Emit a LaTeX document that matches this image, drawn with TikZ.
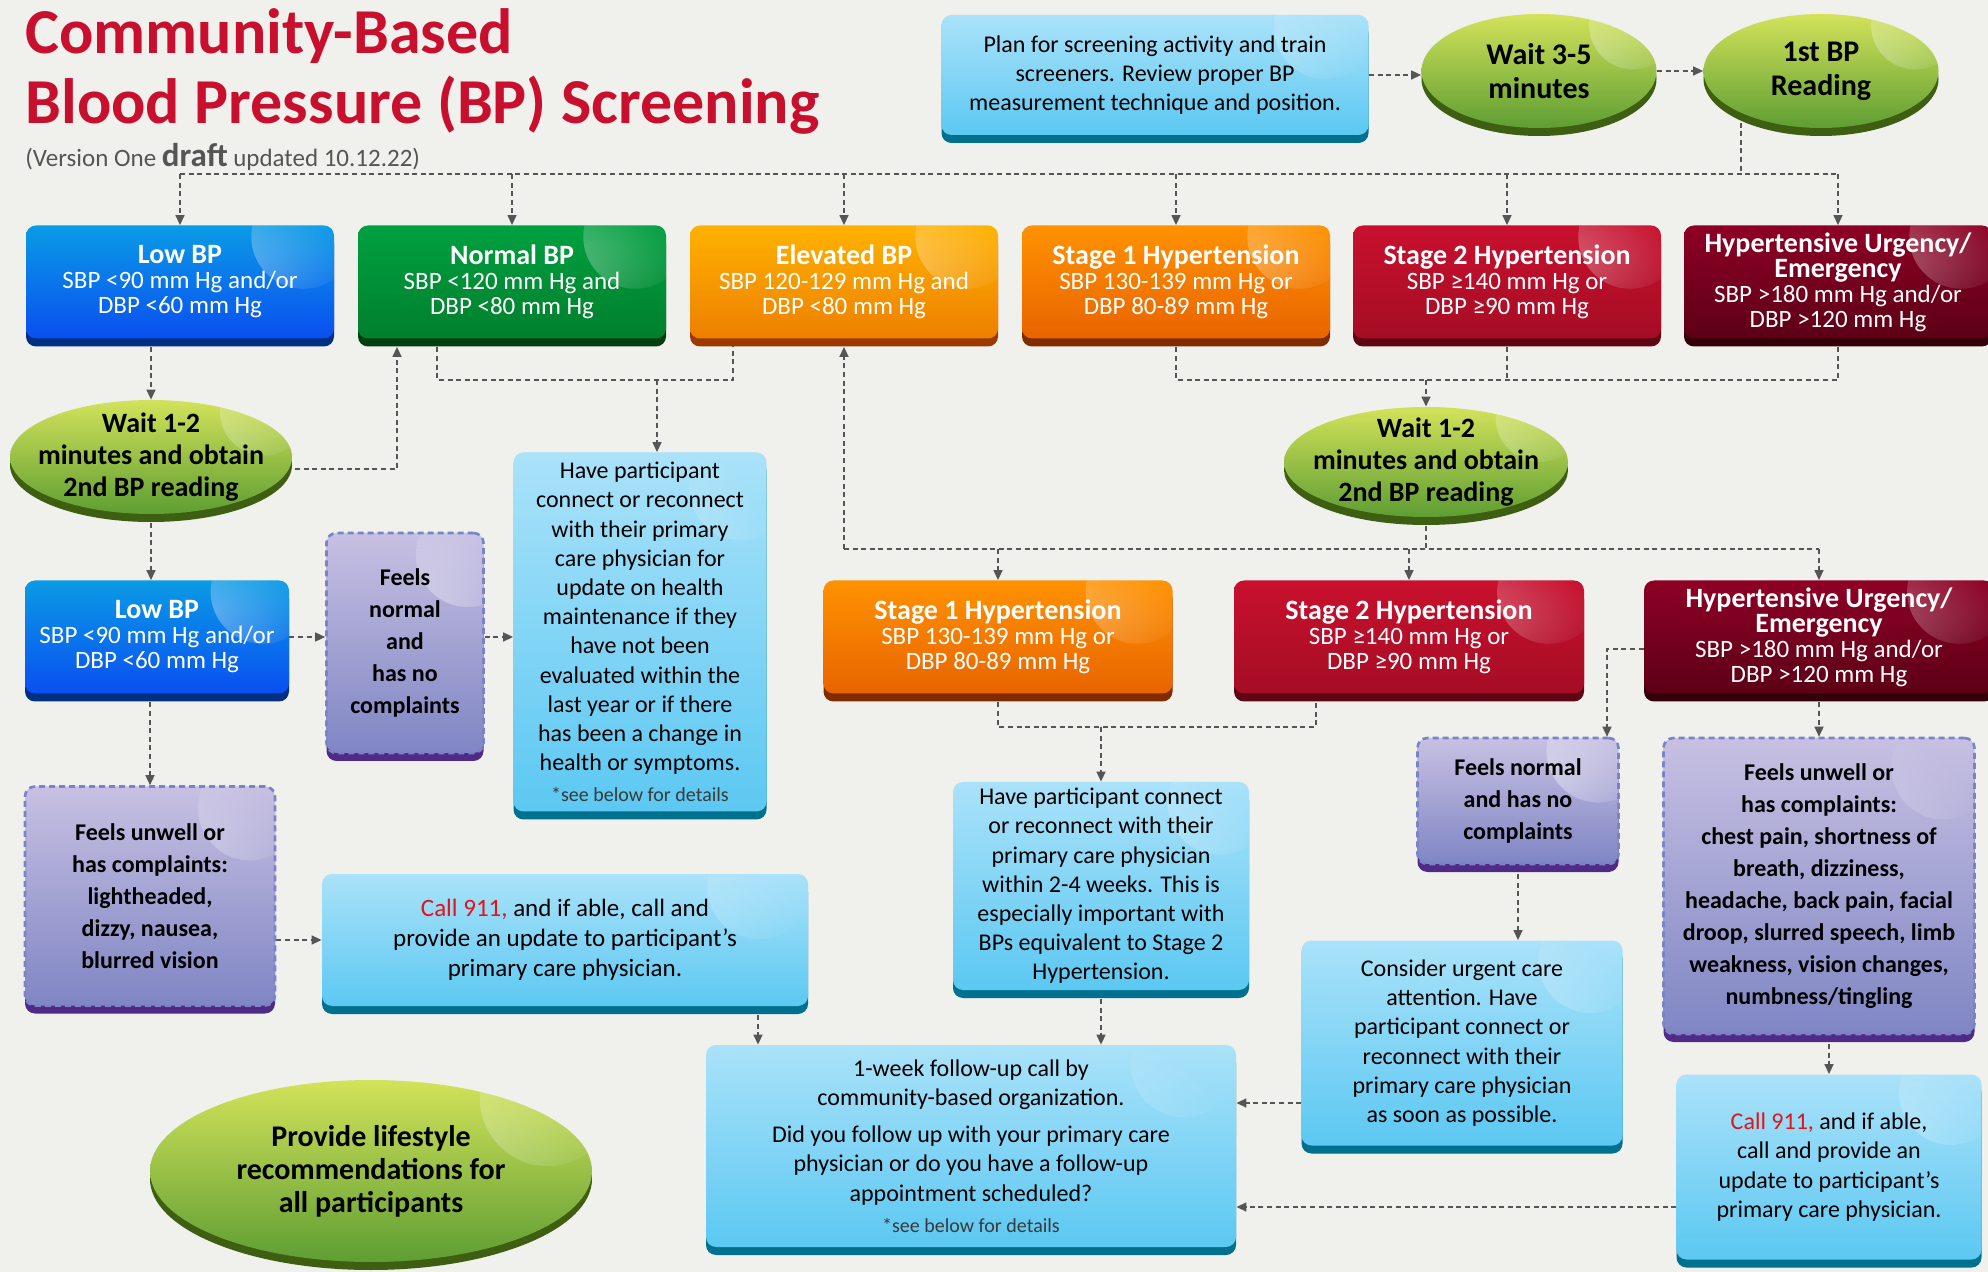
\documentclass[tikz,border=0pt]{standalone}
\usepackage{fontspec}
\setmainfont{Carlito}
\usetikzlibrary{arrows.meta,shapes.geometric,backgrounds,fadings,calc}

\definecolor{bg}{HTML}{F0F0EC}
\definecolor{lnk}{HTML}{555555}
\definecolor{ahared}{HTML}{C8102E}
\definecolor{callred}{HTML}{E3131B}
\definecolor{subgray}{HTML}{555555}
\definecolor{notegray}{HTML}{3A3A3A}
\definecolor{infoA}{HTML}{AAE2F9}
\definecolor{infoB}{HTML}{5CC8F2}
\definecolor{infoE}{HTML}{00708F}
\definecolor{lowA}{HTML}{0A9BE6}
\definecolor{lowB}{HTML}{0A4FF0}
\definecolor{lowE}{HTML}{00307F}
\definecolor{normalA}{HTML}{00A040}
\definecolor{normalB}{HTML}{007F2D}
\definecolor{normalE}{HTML}{00400F}
\definecolor{elevA}{HTML}{FFB200}
\definecolor{elevB}{HTML}{EE7F00}
\definecolor{elevE}{HTML}{9A3A00}
\definecolor{stoneA}{HTML}{FF9200}
\definecolor{stoneB}{HTML}{E86400}
\definecolor{stoneE}{HTML}{7F2C00}
\definecolor{sttwoA}{HTML}{C8102E}
\definecolor{sttwoB}{HTML}{A50D24}
\definecolor{sttwoE}{HTML}{5E0612}
\definecolor{urgA}{HTML}{8E0025}
\definecolor{urgB}{HTML}{5C0015}
\definecolor{urgE}{HTML}{33000A}
\definecolor{pplA}{HTML}{C7C0E2}
\definecolor{pplB}{HTML}{7F86C4}
\definecolor{pplE}{HTML}{4F2A86}
\definecolor{pplD}{HTML}{7A82C8}
\definecolor{grnA}{HTML}{D3E25A}
\definecolor{grnB}{HTML}{5E9E33}
\definecolor{grnE}{HTML}{3E5E12}

\tikzfading[name=glow, inner color=transparent!55, outer color=transparent!100]

\newcommand{\hd}[1]{{\bfseries\fontsize{14}{14}\selectfont #1}}
\newcommand{\callnine}{\textcolor{callred}{Call 911,}}
\newcommand{\seenote}{{\fontsize{10}{12}\selectfont\color{notegray}*see below for details}}

\begin{document}
\begin{tikzpicture}[x=0.5pt, y=-0.5pt,
  link/.style={draw=lnk, line width=0.7pt, dash pattern=on 2.5pt off 1.8pt},
  arr/.style={link, -{Triangle[length=5pt,width=4.5pt]}},
  sz/.style 2 args={minimum width=#1*0.5pt, minimum height=#2*0.5pt},
  gloss/.style={path picture={\fill[white, path fading=glow]
    ($(path picture bounding box.center)!0.8!(path picture bounding box.north east)$) circle (#1);}},
  tile/.style n args={3}{rectangle, rounded corners=5pt, inner sep=0pt, align=center,
    top color=#1, bottom color=#2, preaction={fill=#3, transform canvas={yshift=-4pt}}, gloss=26pt},
  info/.style={tile={infoA}{infoB}{infoE}, font=\fontsize{12}{14.6}\selectfont},
  feel/.style={tile={pplA}{pplB}{pplE}, draw=pplD, line width=1.3pt, dash pattern=on 3pt off 2pt,
    font=\bfseries\fontsize{12}{16}\selectfont},
  stage/.style={tile={#1A}{#1B}{#1E}, text=white, font=\fontsize{12.5}{12.5}\selectfont},
  oval/.style={ellipse, inner xsep=-20pt, inner ysep=-8pt, align=center, top color=grnA, bottom color=grnB,
    preaction={fill=grnE, transform canvas={yshift=-4pt}}, gloss=22pt, font=\bfseries\fontsize{14}{16}\selectfont}]
  \useasboundingbox (0,0) rectangle (1988,1272);

  % title
  \node[anchor=north west, align=left, inner sep=0pt, text=ahared,
    font=\bfseries\fontsize{32}{35}\selectfont] (title) at (25,8)
    {Community-Based\\Blood Pressure (BP) Screening};
  \node[anchor=north west, inner sep=0pt, text=subgray, font=\fontsize{12.5}{14}\selectfont] (sub) at (25,143)
    {(Version One {\bfseries\fontsize{16.5}{16}\selectfont draft} updated 10.12.22)};

  % start
  \node[info, sz={427}{120}] (plan) at (1155,75)
    {Plan for screening activity and train\\screeners. Review proper BP\\measurement technique and position.};
  \node[oval, sz={235}{114}, font=\bfseries\fontsize{15}{17}\selectfont] (wait) at (1539,71) {Wait 3-5\\minutes};
  \node[oval, sz={235}{114}, font=\bfseries\fontsize{15}{17}\selectfont] (first) at (1821,71) {1st BP\\Reading};

  % first reading
  \node[stage=low, sz={308}{113}] (low) at (180,282) {\hd{Low BP}\\SBP <90 mm Hg and/or\\DBP <60 mm Hg};
  \node[stage=normal, sz={308}{113}] (normal) at (512,282) {\hd{Normal BP}\\SBP <120 mm Hg and\\DBP <80 mm Hg};
  \node[stage=elev, sz={308}{113}] (elev) at (844,282) {\hd{Elevated BP}\\SBP 120-129 mm Hg and\\DBP <80 mm Hg};
  \node[stage=stone, sz={308}{113}] (st1) at (1176,282) {\hd{Stage 1 Hypertension}\\SBP 130-139 mm Hg or\\DBP 80-89 mm Hg};
  \node[stage=sttwo, sz={308}{113}] (st2) at (1507,282) {\hd{Stage 2 Hypertension}\\SBP ≥140 mm Hg or\\DBP ≥90 mm Hg};
  \node[stage=urg, sz={308}{113}] (urg) at (1838,282) {\hd{Hypertensive Urgency/}\\\hd{Emergency}\\SBP >180 mm Hg and/or\\DBP >120 mm Hg};

  % second reading
  \node[oval, sz={282}{114}] (wl) at (151,457) {Wait 1-2\\minutes and obtain\\2nd BP reading};
  \node[oval, sz={284}{110}] (wr) at (1426,462) {Wait 1-2\\minutes and obtain\\2nd BP reading};
  \node[info, sz={253}{359}] (havL) at (640,632)
    {Have participant\\connect or reconnect\\with their primary\\care physician for\\update on health\\maintenance if they\\have not been\\evaluated within the\\last year or if there\\has been a change in\\health or symptoms.\\[1pt]\seenote};
  \node[stage=low, sz={264}{113}] (lowb) at (157,637) {\hd{Low BP}\\SBP <90 mm Hg and/or\\DBP <60 mm Hg};
  \node[feel, sz={157}{220}] (fnl) at (405,643) {Feels\\normal\\and\\has no\\complaints};
  \node[stage=stone, sz={349}{113}] (st1b) at (998,637) {\hd{Stage 1 Hypertension}\\SBP 130-139 mm Hg or\\DBP 80-89 mm Hg};
  \node[stage=sttwo, sz={350}{113}] (st2b) at (1409,637) {\hd{Stage 2 Hypertension}\\SBP ≥140 mm Hg or\\DBP ≥90 mm Hg};
  \node[stage=urg, sz={350}{113}] (urgb) at (1819,637) {\hd{Hypertensive Urgency/}\\\hd{Emergency}\\SBP >180 mm Hg and/or\\DBP >120 mm Hg};

  % outcomes
  \node[feel, sz={250}{219}] (ful) at (150,896) {Feels unwell or\\has complaints:\\lightheaded,\\dizzy, nausea,\\blurred vision};
  \node[info, sz={486}{132}, font=\fontsize{12.5}{15}\selectfont] (c911l) at (565,940)
    {\callnine{} and if able, call and\\provide an update to participant’s\\primary care physician.};
  \node[info, sz={296}{208}] (mid) at (1101,886)
    {Have participant connect\\or reconnect with their\\primary care physician\\within 2-4 weeks. This is\\especially important with\\BPs equivalent to Stage 2\\Hypertension.};
  \node[info, sz={530}{202}] (fup) at (971,1146)
    {1-week follow-up call by\\community-based organization.\\[4pt]Did you follow up with your primary care\\physician or do you have a follow-up\\appointment scheduled?\\[1pt]\seenote};
  \node[feel, sz={201}{126}] (fnr) at (1518,801) {Feels normal\\and has no\\complaints};
  \node[info, sz={321}{205}] (cons) at (1462,1043)
    {Consider urgent care\\attention. Have\\participant connect or\\reconnect with their\\primary care physician\\as soon as possible.};
  \node[feel, sz={311}{296}] (fur) at (1819,886)
    {Feels unwell or\\has complaints:\\chest pain, shortness of\\breath, dizziness,\\headache, back pain, facial\\droop, slurred speech, limb\\weakness, vision changes,\\numbness/tingling};
  \node[info, sz={305}{185}] (c911r) at (1829,1167)
    {\callnine{} and if able,\\call and provide an\\update to participant’s\\primary care physician.};
  \node[oval, sz={442}{182}, gloss=34pt, font=\bfseries\fontsize{15}{16.5}\selectfont] (life) at (371,1171)
    {Provide lifestyle\\recommendations for\\all participants};

  \begin{scope}[on background layer]
    \fill[bg] (0,0) rectangle (1988,1272);
    \coordinate (busTop) at (0,174);
    \coordinate (busUp) at (0,380);
    \coordinate (busMid) at (0,549);
    \coordinate (busLow) at (0,727);
    \coordinate (fD) at ([xshift=-40pt]first.center);
    \coordinate (wE) at ([yshift=-6pt]wl.east);
    \coordinate (nU) at ([xshift=-57.5pt,yshift=-4pt]normal.south);
    \coordinate (nD) at ([xshift=-37.5pt]normal.south);
    \coordinate (eD) at ([xshift=-55.5pt]elev.south);
    \coordinate (eU) at ([yshift=-4pt]elev.south);
    \coordinate (hIn) at ([xshift=8.5pt]havL.north);
    \coordinate (cD) at ([xshift=96.5pt]c911l.south);
    \coordinate (s2D) at ([xshift=-46.5pt]st2b.south);
    \coordinate (uW) at ([yshift=-6pt]urgb.west);
    \coordinate (fnrIn) at ([xshift=44.5pt]fnr.north);
    \coordinate (cW) at ([yshift=-30pt]cons.west);
    \coordinate (rW) at ([yshift=-20pt]c911r.west);

    \draw[arr] (plan.east) -- (plan.east -| wait.west);
    \draw[arr] (wait.east) -- (first.west);
    \draw[link] (fD) -- (fD |- busTop);
    \draw[link] (low.north |- busTop) -- (urg.north |- busTop);
    \foreach \n in {low,normal,elev,st1,st2,urg}
      \draw[arr] (\n.north |- busTop) -- (\n.north);

    \draw[arr] (low.south -| wl) -- (wl.north);
    \draw[arr] ([xshift=-3pt]wE) -| (nU);
    \draw[link] (nD) |- (eD |- busUp) -- (eD);
    \draw[arr] (hIn |- busUp) -- (hIn);
    \draw[link] (st1.south) |- (urg.south |- busUp) -- (urg.south);
    \draw[link] (st2.south) -- (st2.south |- busUp);
    \draw[arr] (wr.north |- busUp) -- (wr.north);

    \draw[link] (wr.south) -- (wr.south |- busMid);
    \draw[link] (elev.south |- busMid) -- (urgb.north |- busMid);
    \draw[arr] (elev.south |- busMid) -- (eU);
    \foreach \n in {st1b,st2b,urgb}
      \draw[arr] (\n.north |- busMid) -- (\n.north);

    \draw[arr] (wl.south) -- (wl.south |- lowb.north);
    \draw[arr] (lowb.east) -- (lowb.east -| fnl.west);
    \draw[arr] (fnl.east |- lowb) -- (havL.west |- lowb);
    \draw[arr] (ful.north |- lowb.south) -- (ful.north);
    \draw[arr] (ful.east |- c911l) -- (c911l.west);
    \draw[arr] (cD) -- (cD |- fup.north);

    \draw[link] (st1b.south) |- (s2D |- busLow) -- (s2D);
    \draw[arr] (mid.north |- busLow) -- (mid.north);
    \draw[arr] (mid.south) -- (mid.south |- fup.north);

    \draw[arr] (uW) -| (fnrIn);
    \draw[arr] (fnr.south) -- (fnr.south |- cons.north);
    \draw[arr] (cW) -- (cW -| fup.east);
    \draw[arr] (urgb.south) -- (urgb.south |- fur.north);
    \draw[arr] (c911r.north |- fur.south) -- (c911r.north);
    \draw[arr] (rW) -- (rW -| fup.east);
  \end{scope}
\end{tikzpicture}
\end{document}
